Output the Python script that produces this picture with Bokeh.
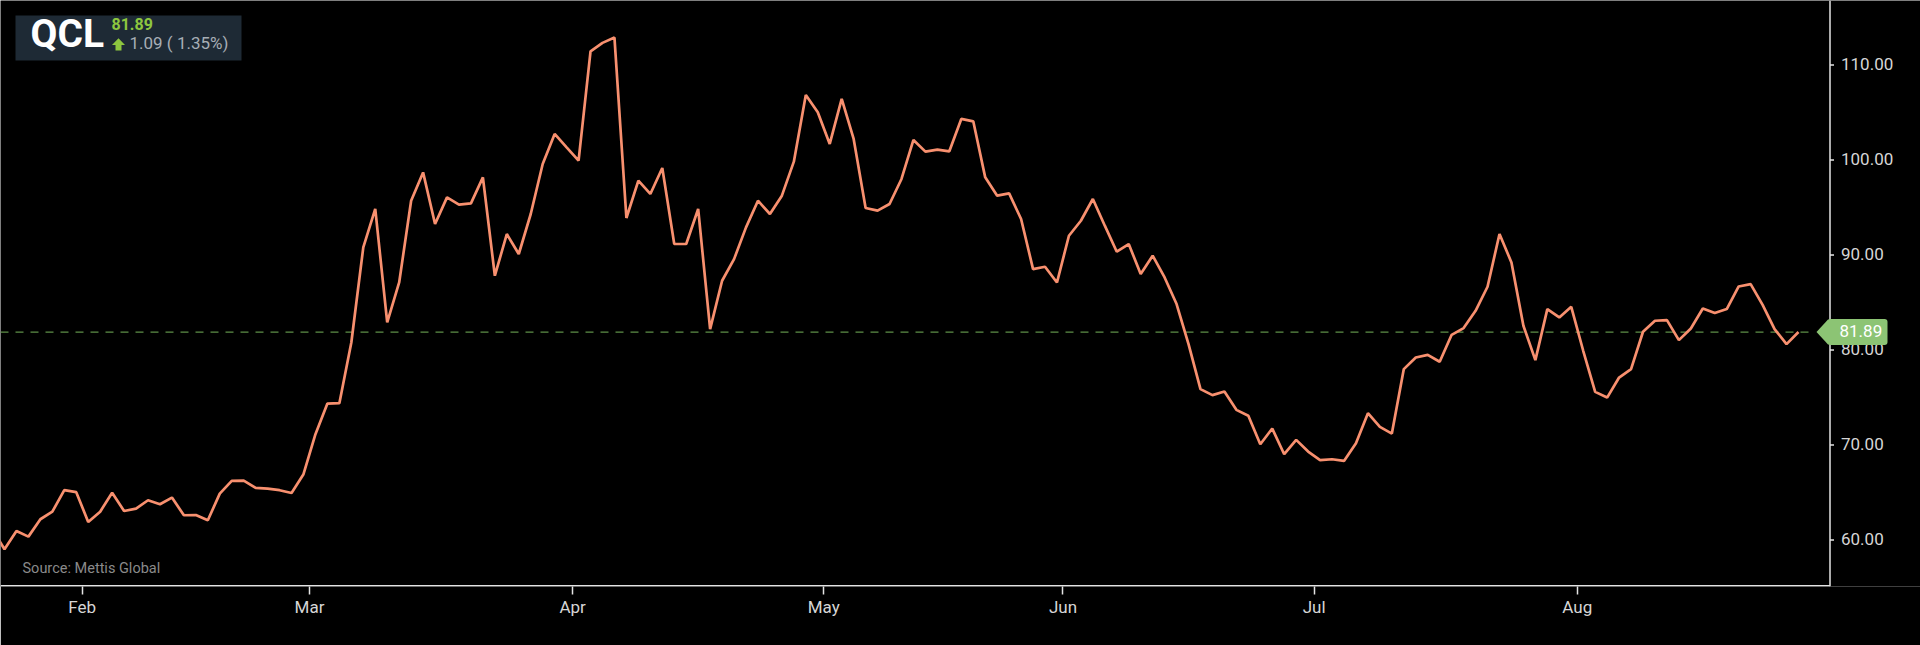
from bokeh.plotting import figure
from bokeh.models import Range1d, FixedTicker, Label, BoxAnnotation, PolyAnnotation
from bokeh.core.properties import value
from bokeh.embed import file_html
from bokeh.resources import INLINE

# ---------------- data ----------------
symbol = "QCL"
last_price = 81.89
change = 1.09
change_pct = 1.35
source_text = "Source: Mettis Global"

prices = [
    61.10, 59.02, 60.95, 60.35, 62.18, 62.98, 65.24, 65.03, 61.90, 62.98,
    64.98, 63.05, 63.30, 64.18, 63.76, 64.46, 62.60, 62.63, 62.07, 64.88,
    66.22, 66.25, 65.48, 65.41, 65.24, 64.95, 66.92, 71.14, 74.36, 74.40,
    80.79, 90.80, 94.85, 82.90, 87.11, 95.72, 98.70, 93.27, 96.07, 95.30,
    95.44, 98.18, 87.82, 92.21, 90.11, 94.32, 99.59, 102.75, 101.34, 99.94,
    111.45, 112.34, 112.90, 93.90, 97.83, 96.43, 99.17, 91.16, 91.16, 94.85,
    82.20, 87.29, 89.57, 92.91, 95.72, 94.32, 96.25, 99.83, 106.86, 105.03,
    101.70, 106.44, 102.22, 94.95, 94.67, 95.37, 98.01, 102.12, 100.89, 101.10,
    100.92, 104.33, 104.08, 98.18, 96.25, 96.49, 93.79, 88.52, 88.77, 87.11,
    92.03, 93.61, 95.90, 93.09, 90.35, 91.16, 88.00, 89.93, 87.64, 84.84,
    80.62, 75.88, 75.25, 75.63, 73.70, 73.07, 70.08, 71.73, 69.03, 70.54,
    69.31, 68.40, 68.50, 68.32, 70.19, 73.35, 71.91, 71.20, 77.99, 79.21,
    79.49, 78.76, 81.60, 82.31, 84.13, 86.66, 92.21, 89.22, 82.55, 78.94,
    84.31, 83.43, 84.55, 79.92, 75.59, 74.99, 77.10, 77.99, 81.92, 83.08,
    83.15, 81.04, 82.27, 84.37, 83.89, 84.31, 86.69, 86.94, 84.76, 82.20,
    80.62, 81.89,
]
month_labels = ["Feb", "Mar", "Apr", "May", "Jun", "Jul", "Aug"]
month_tick_idx = [7.5, 26.5, 48.5, 69.5, 89.5, 110.5, 132.5]
y_ticks = [60, 70, 80, 90, 100, 110]
y_tick_labels = [f"{t:.2f}" for t in y_ticks]

idx = list(range(len(prices)))

# ---------------- layout constants (pixels of the 1920x645 page) ----------------
W, H = 1920, 645
FRAME_H = 586
AXIS_X = 1829.5          # right value axis
PX_PER_IDX = 11.96
X_START = 0.666
Y_TOP, Y_BOT = 116.8, 55.1
PX_PER_UNIT = FRAME_H / (Y_TOP - Y_BOT)


def ix(px):
    return X_START + px / PX_PER_IDX


def vy(py):
    return Y_TOP - py / PX_PER_UNIT


p = figure(width=W, height=H, output_backend="svg", toolbar_location=None,
           x_range=Range1d(X_START, ix(W)), y_range=Range1d(Y_BOT, Y_TOP),
           y_axis_location=None,
           min_border_left=0, min_border_top=0, min_border_right=0,
           min_border_bottom=H - FRAME_H,
           background_fill_color="black", border_fill_color="black",
           outline_line_color=None)
p.grid.visible = False

axis_col = "#e4e4e4"
lab_col = "#d6d6d6"

# bottom (time) axis: ticks and labels from Bokeh's axis
p.xaxis.ticker = FixedTicker(ticks=month_tick_idx)
p.xaxis.major_label_overrides = {t: l for t, l in zip(month_tick_idx, month_labels)}
p.xaxis.major_label_text_font = "Roboto"
p.xaxis.major_label_text_font_size = "17px"
p.xaxis.major_label_text_color = lab_col
p.xaxis.axis_line_color = None
p.xaxis.major_tick_line_color = axis_col
p.xaxis.major_tick_line_width = 1.5
p.xaxis.major_tick_out = 8
p.xaxis.major_tick_in = 0
p.xaxis.minor_tick_line_color = None
p.xaxis.major_label_standoff = 2

# axis lines (bottom ends at the value axis, as in the reference)
p.line([ix(0), ix(AXIS_X)], [vy(FRAME_H - 0.7), vy(FRAME_H - 0.7)],
       line_color=axis_col, line_width=1.5)
p.line([ix(AXIS_X), ix(AXIS_X)], [vy(FRAME_H), Y_TOP], line_color=axis_col, line_width=1.5)

# right value axis: ticks and labels
p.segment(x0=[ix(AXIS_X)] * len(y_ticks), x1=[ix(AXIS_X + 4)] * len(y_ticks),
          y0=y_ticks, y1=y_ticks, line_color=axis_col, line_width=1.5)
p.text(x=[ix(AXIS_X + 11)] * len(y_ticks), y=y_ticks, y_offset=-1, text=y_tick_labels,
       text_font=value("Roboto"), text_font_size="17px", text_color=lab_col,
       text_baseline="middle", text_align="left")

# last price dashed line
p.line([ix(0), ix(1812)], [last_price, last_price], line_color="#5E8F48",
       line_dash="8 7", line_width=1.2)

# price series
p.line(idx, prices, line_color="#F8906F", line_width=2.7)

# price tag on the value axis
tag_col = "#8CC474"
half = 13 / PX_PER_UNIT
p.add_layout(BoxAnnotation(left=ix(1827), right=ix(1887), top=last_price + half,
                           bottom=last_price - half, fill_color=tag_col, fill_alpha=1,
                           line_color=None, border_radius=3))
p.add_layout(PolyAnnotation(xs=[ix(1816), ix(1828), ix(1828)],
                            ys=[last_price, last_price + half, last_price - half],
                            fill_color=tag_col, fill_alpha=1, line_color=None))
p.add_layout(Label(x=ix(1839), y=last_price, y_offset=1, text=f"{last_price:.2f}",
                   text_baseline="middle", text_font="Roboto", text_font_size="17px",
                   text_color="white"))


def header_label(text, left_px, center_px, size, color, bold=False):
    return Label(x=ix(left_px), y=vy(center_px - 0.06 * size), text=text,
                 text_baseline="middle", text_font="Roboto",
                 text_font_style="bold" if bold else "normal",
                 text_font_size=f"{size}px", text_color=color)


# header box
p.add_layout(BoxAnnotation(left=ix(15), right=ix(241), top=vy(15), bottom=vy(60),
                           fill_color="#1E2A35", fill_alpha=1, line_color=None))
p.add_layout(header_label(symbol, 30, 35.4, 39, "white", bold=True))
p.add_layout(header_label(f"{last_price:.2f}", 111, 24.2, 16, "#8DC63F", bold=True))
arrow_px = [(118, 37.7), (124.5, 44.5), (121, 44.5), (121, 50), (115, 50),
            (115, 44.5), (111.5, 44.5)]
p.add_layout(PolyAnnotation(xs=[ix(a) for a, b in arrow_px], ys=[vy(b) for a, b in arrow_px],
                            fill_color="#8DC63F", fill_alpha=1, line_color=None))
p.add_layout(header_label(f"{change:.2f} ( {change_pct:.2f}%)", 129, 43.7, 17, "#A7AEB5"))

# source
p.add_layout(header_label(source_text, 22, 568.5, 14.5, "#8A8A8A"))

open("out.html", "w").write(file_html(p, INLINE))
